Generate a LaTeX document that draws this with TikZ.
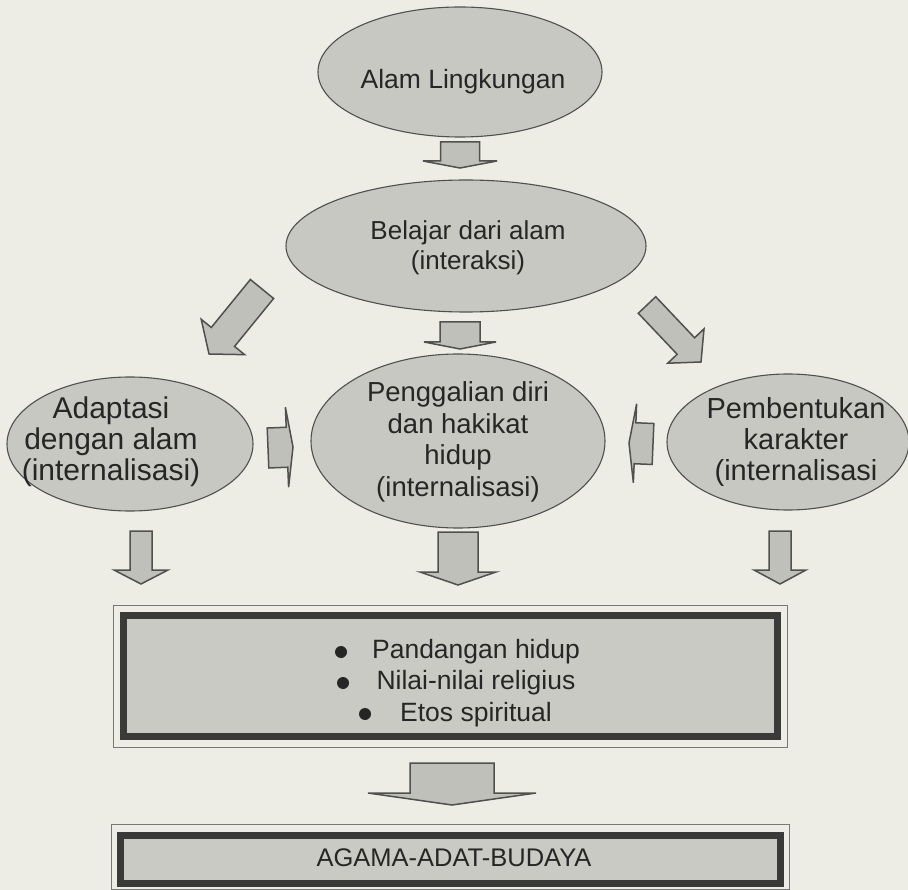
\documentclass[tikz,border=0pt]{standalone}
\usepackage{fontspec}
\setmainfont{Liberation Sans}
\usetikzlibrary{shapes.geometric,calc}
\definecolor{paper}{RGB}{237,237,230}
\definecolor{ellfill}{RGB}{200,200,195}
\definecolor{arrfill}{RGB}{192,192,187}
\definecolor{edge}{RGB}{80,80,77}
\definecolor{boxfill}{RGB}{202,202,197}
\definecolor{frame}{RGB}{58,58,56}
\definecolor{thin}{RGB}{120,120,116}
\definecolor{ink}{RGB}{38,38,38}
\tikzset{
  ell/.style={ellipse, draw=edge, line width=1.1pt, fill=ellfill, inner sep=0pt},
  lbl/.style={align=center, text=ink, inner sep=0pt},
  blk/.style={draw=edge, line width=1.5pt, fill=arrfill, line join=miter},
  thickframe/.style={draw=frame, line width=7pt, fill=boxfill, inner sep=0pt},
  thinframe/.style={draw=thin, line width=1pt},
  dot/.style={fill=ink},
}
\newcommand\blockarr[5]{%
  \coordinate (hb) at ($(#2)!#5!(#1)$);
  \draw[blk] ($(#1)!#3!90:(#2)$) -- ($(hb)!#3!-90:(#1)$) -- ($(hb)!#4!-90:(#1)$) -- (#2)
     -- ($(hb)!#4!90:(#1)$) -- ($(hb)!#3!90:(#1)$) -- ($(#1)!#3!-90:(#2)$) -- cycle;
}
\begin{document}
\begin{tikzpicture}[x=1pt,y=-1pt]
\useasboundingbox (0,0) rectangle (908,890);
\fill[paper] (0,0) rectangle (908,890);

% ellipses
\node[ell, minimum width=284pt, minimum height=130pt] (alam) at (460,72) {};
\node[lbl, font=\fontsize{26.5}{30}\selectfont] (alamT) at (463,82) {Alam Lingkungan};

\node[ell, minimum width=360pt, minimum height=132pt] (belajar) at (466,246) {};
\node[lbl, font=\fontsize{26}{30}\selectfont] (belajarT) at (468,248) {Belajar dari alam\\(interaksi)};

\node[ell, minimum width=246pt, minimum height=134pt] (adapt) at (130,444) {};
\node[lbl, font=\fontsize{30}{31}\selectfont] (adaptT) at (111,442) {Adaptasi\\dengan alam\\(internalisasi)};

\node[ell, minimum width=294pt, minimum height=174pt] (gali) at (458,441) {};
\node[lbl, font=\fontsize{27.5}{31.5}\selectfont] (galiT) at (458,442) {Penggalian diri\\dan hakikat\\hidup\\(internalisasi)};

\node[ell, minimum width=242pt, minimum height=136pt] (bentuk) at (788,442) {};
\node[lbl, font=\fontsize{29}{31}\selectfont] (bentukT) at (796,442) {Pembentukan\\karakter\\(internalisasi};

% boxes
\draw[thinframe] (113,605) rectangle (787,747);
\node[thickframe, minimum width=654pt, minimum height=121pt] (nilai) at (450,675.5) {};
\node[lbl, font=\fontsize{26.5}{31.5}\selectfont] (nilaiT) at (458,683) {%
  \hspace{36pt}Pandangan hidup\\
  \hspace{36pt}Nilai-nilai religius\\
  \hspace{36pt}Etos spiritual};
\fill[dot] (341,652) circle (6pt);
\fill[dot] (343,683) circle (6pt);
\fill[dot] (365,714) circle (6pt);

\draw[thinframe] (111,824) rectangle (789,889.5);
\node[thickframe, minimum width=660pt, minimum height=48pt] (agama) at (450,859) {};
\node[lbl, font=\fontsize{25.5}{28}\selectfont] (agamaT) at (454,858) {AGAMA-ADAT-BUDAYA};

% block arrows
\coordinate (a1s) at (460,142); \coordinate (a1e) at (460,168);
\blockarr{a1s}{a1e}{19.5pt}{37pt}{7pt}
\coordinate (a2s) at (460,322); \coordinate (a2e) at (460,349);
\blockarr{a2s}{a2e}{20pt}{36pt}{7pt}
\coordinate (a3s) at (262,289); \coordinate (a3e) at (209,354);
\blockarr{a3s}{a3e}{15pt}{28pt}{22pt}
\coordinate (a4s) at (647,305); \coordinate (a4e) at (701,362);
\blockarr{a4s}{a4e}{12pt}{25pt}{22pt}
\coordinate (a5s) at (268,448); \coordinate (a5e) at (293,447);
\blockarr{a5s}{a5e}{20pt}{40pt}{6pt}
\coordinate (a6s) at (653,444); \coordinate (a6e) at (629,443);
\blockarr{a6s}{a6e}{20.5pt}{39.5pt}{6pt}
\coordinate (a7s) at (141,531); \coordinate (a7e) at (141,584);
\blockarr{a7s}{a7e}{11pt}{27pt}{14pt}
\coordinate (a8s) at (458,532); \coordinate (a8e) at (458,585);
\blockarr{a8s}{a8e}{20pt}{38pt}{13pt}
\coordinate (a9s) at (780,531); \coordinate (a9e) at (780,584);
\blockarr{a9s}{a9e}{11pt}{26pt}{14pt}
\coordinate (a10s) at (452,763); \coordinate (a10e) at (452,805);
\blockarr{a10s}{a10e}{42pt}{84pt}{12pt}
\end{tikzpicture}
\end{document}
